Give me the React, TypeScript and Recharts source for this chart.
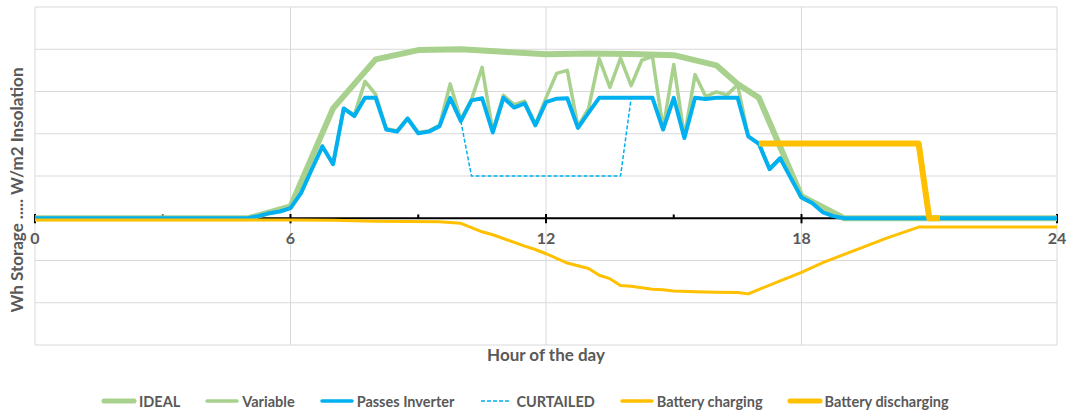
import { CartesianGrid, Legend, Line, LineChart, ReferenceLine, XAxis, YAxis } from "recharts";

// 15-minute samples through the day (hour of day)
const solarHours = [
  0, 5, 5.25, 5.5, 5.75, 6, 6.25, 6.5, 6.75, 7, 7.25, 7.5, 7.75, 8, 8.25, 8.5, 8.75, 9, 9.25, 9.5, 9.75, 10,
  10.25, 10.5, 10.75, 11, 11.25, 11.5, 11.75, 12, 12.25, 12.5, 12.75, 13, 13.25, 13.5, 13.75, 14, 14.25, 14.5,
  14.75, 15, 15.25, 15.5, 15.75, 16, 16.25, 16.5, 16.75, 17, 17.25, 17.5, 17.75, 18, 18.25, 18.5, 18.75, 19, 24,
];
const variableValues = [
  0, 0, 0.05, 0.12, 0.16, 0.24, 0.62, 1.16, 1.7, 1.28, 2.6, 2.45, 3.24, 2.93, 2.12, 2.07, 2.37, 2.03, 2.07, 2.2,
  3.18, 2.34, 2.81, 3.57, 2.05, 2.91, 2.69, 2.77, 2.22, 2.85, 3.43, 3.5, 2.17, 2.6, 3.78, 3.1, 3.79, 3.14, 3.74,
  3.83, 2.12, 3.64, 1.93, 3.4, 2.88, 2.99, 2.92, 3.16, 1.94, 1.77, 1.18, 1.43, 0.96, 0.52, 0.38, 0.18, 0.06, 0, 0,
];
const inverterValues = [
  0, 0, 0.05, 0.12, 0.16, 0.24, 0.6, 1.16, 1.7, 1.28, 2.6, 2.42, 2.85, 2.85, 2.1, 2.05, 2.36, 2.01, 2.05, 2.18,
  2.85, 2.3, 2.79, 2.84, 2.03, 2.85, 2.62, 2.72, 2.2, 2.75, 2.83, 2.84, 2.14, 2.5, 2.85, 2.85, 2.85, 2.85, 2.85,
  2.85, 2.1, 2.85, 1.9, 2.85, 2.82, 2.85, 2.85, 2.85, 1.94, 1.76, 1.16, 1.42, 0.95, 0.49, 0.36, 0.14, 0.05, 0, 0,
];

const idealHours = [0, 5, 5.5, 6, 7, 8, 9, 10, 11, 12, 13, 14, 15, 16, 16.5, 17, 18, 19, 24];
const idealValues = [0, 0, 0.14, 0.28, 2.6, 3.76, 3.98, 4.0, 3.94, 3.88, 3.9, 3.89, 3.86, 3.62, 3.18, 2.85, 0.52, 0, 0];

const curtailedHours = [10, 10.25, 13.75, 14];
const curtailedValues = [2.3, 1.0, 1.0, 2.85];

const chargingHours = [
  0, 6, 7, 8, 9.5, 10, 10.5, 10.75, 11.5, 11.75, 12, 12.5, 13, 13.25, 13.5, 13.75, 14, 14.5, 14.75, 15, 15.5, 16,
  16.5, 16.75, 17.5, 18, 18.5, 19.25, 20, 20.75, 24,
];
const chargingValues = [
  -0.04, -0.04, -0.05, -0.07, -0.08, -0.12, -0.32, -0.39, -0.66, -0.74, -0.84, -1.06, -1.19, -1.35, -1.43, -1.59,
  -1.61, -1.68, -1.69, -1.72, -1.74, -1.75, -1.76, -1.79, -1.48, -1.28, -1.05, -0.76, -0.47, -0.21, -0.21,
];

const dischargingHours = [17, 20.75, 21, 21.25];
const dischargingValues = [1.77, 1.77, 0, 0];

const hourTicks = [0, 6, 12, 18, 24];
const minorTicks = [3, 9, 15, 21];
const valueTicks = [-3, -2, -1, 0, 1, 2, 3, 4, 5];

const FONT = "Lato, 'Liberation Sans', sans-serif";
const TEXT = "#595959";
const GREEN = "#A9D18E";
const BLUE = "#00B0F0";
const ORANGE = "#FFC000";

const toPoints = (hours: number[], values: number[]) => hours.map((h, i) => ({ h, v: values[i] }));

const series = [
  { name: "IDEAL", data: toPoints(idealHours, idealValues), color: GREEN, width: 6, legendWidth: 5 },
  { name: "Variable", data: toPoints(solarHours, variableValues), color: GREEN, width: 3.5, legendWidth: 3.5 },
  { name: "Passes Inverter", data: toPoints(solarHours, inverterValues), color: BLUE, width: 4, legendWidth: 3.5 },
  { name: "CURTAILED", data: toPoints(curtailedHours, curtailedValues), color: BLUE, width: 1.5, legendWidth: 1.5, dash: "4 2" },
  { name: "Battery charging", data: toPoints(chargingHours, chargingValues), color: ORANGE, width: 3, legendWidth: 3.5 },
  { name: "Battery discharging", data: toPoints(dischargingHours, dischargingValues), color: ORANGE, width: 6, legendWidth: 5 },
];

function HourTick({ x, y, payload }: any) {
  return (
    <text x={x} y={y - 101} textAnchor="middle" fill={TEXT} fontFamily={FONT} fontSize={16} fontWeight={700}>
      {payload.value}
    </text>
  );
}

function YTitle({ viewBox }: any) {
  const cx = viewBox.x + 23;
  const cy = viewBox.y + viewBox.height / 2 + 14;
  return (
    <text
      x={cx}
      y={cy}
      transform={`rotate(-90 ${cx} ${cy})`}
      textAnchor="middle"
      fill={TEXT}
      fontFamily={FONT}
      fontSize={17}
      fontWeight={700}
    >
      Wh Storage ..... W/m2 Insolation
    </text>
  );
}

function LegendRow() {
  return (
    <div
      style={{
        display: "flex",
        alignItems: "center",
        height: 20,
        paddingLeft: 101,
        fontFamily: FONT,
        fontSize: 14.5,
        fontWeight: 700,
        color: TEXT,
      }}
    >
      {series.map((s) => (
        <div key={s.name} style={{ display: "flex", alignItems: "center", marginRight: 24 }}>
          <svg width={36} height={8}>
            <line
              x1={3}
              y1={4}
              x2={33}
              y2={4}
              stroke={s.color}
              strokeWidth={s.legendWidth}
              strokeLinecap={s.dash ? "butt" : "round"}
              strokeDasharray={s.dash}
            />
          </svg>
          <span style={{ marginLeft: 2 }}>{s.name}</span>
        </div>
      ))}
    </div>
  );
}

export default function App() {
  return (
    <div style={{ position: "absolute", left: 0, top: 0 }}>
      <LineChart width={1069} height={412} margin={{ top: 7, right: 12, left: 0, bottom: 1 }}>
        <CartesianGrid stroke="#D9D9D9" strokeWidth={1} />
        <XAxis
          type="number"
          dataKey="h"
          domain={[0, 24]}
          ticks={hourTicks}
          height={46}
          axisLine={false}
          tickLine={false}
          tickSize={0}
          tickMargin={0}
          tick={<HourTick />}
          label={{
            value: "Hour of the day",
            position: "insideTop",
            offset: 4,
            fill: TEXT,
            fontFamily: FONT,
            fontSize: 17,
            fontWeight: 700,
          }}
        />
        <YAxis
          type="number"
          domain={[-3, 5]}
          ticks={valueTicks}
          width={35}
          axisLine={false}
          tickLine={false}
          tick={() => <g />}
          label={<YTitle />}
        />
        <ReferenceLine y={0} stroke="#000" strokeWidth={2} zIndex={-50} />
        {hourTicks.map((h) => (
          <ReferenceLine
            key={`major-${h}`}
            segment={[{ x: h, y: -0.12 }, { x: h, y: 0.1 }]}
            stroke="#000"
            strokeWidth={2}
            zIndex={-50}
          />
        ))}
        {minorTicks.map((h) => (
          <ReferenceLine
            key={`minor-${h}`}
            segment={[{ x: h, y: 0 }, { x: h, y: 0.09 }]}
            stroke="#000"
            strokeWidth={2}
            zIndex={-50}
          />
        ))}
        {series.map((s) => (
          <Line
            key={s.name}
            data={s.data}
            dataKey="v"
            name={s.name}
            type="linear"
            stroke={s.color}
            strokeWidth={s.width}
            strokeDasharray={s.dash}
            strokeLinejoin="round"
            dot={false}
            activeDot={false}
            isAnimationActive={false}
          />
        ))}
        <Legend verticalAlign="bottom" wrapperStyle={{ left: 0, width: 1069 }} content={<LegendRow />} />
      </LineChart>
    </div>
  );
}
